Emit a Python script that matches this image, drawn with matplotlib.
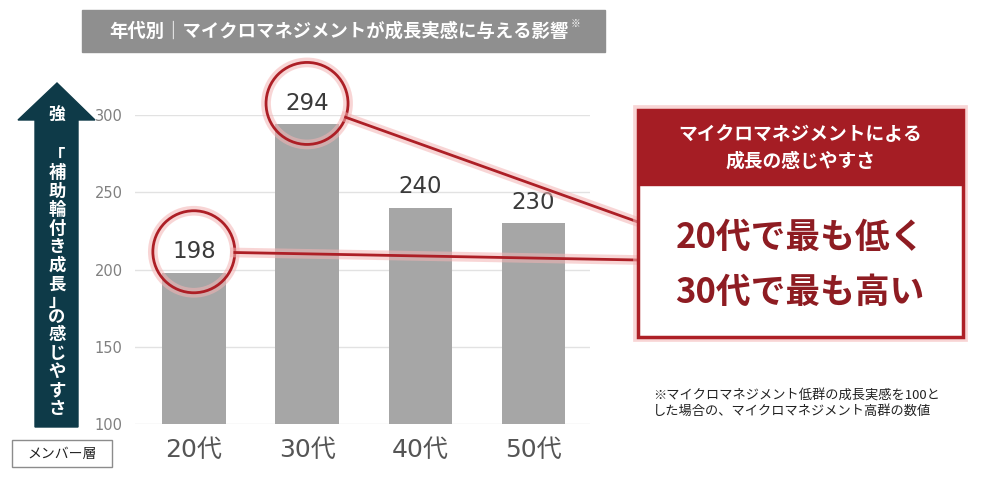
import numpy as np
import matplotlib
matplotlib.use("Agg")
from matplotlib import pyplot as plt
from matplotlib.patches import Rectangle, Polygon, Circle
from matplotlib.lines import Line2D
from matplotlib.transforms import offset_copy, IdentityTransform
import matplotlib.patheffects as pe

plt.rcParams['font.family'] = ['Noto Sans CJK JP', 'DejaVu Sans']

# データ
ages = ['20代', '30代', '40代', '50代']
scores = [198, 294, 240, 230]
yticks = [100, 150, 200, 250, 300]

title = '年代別｜マイクロマネジメントが成長実感に与える影響'
ylabel_text = '「補助輪付き成長」の感じやすさ'
box_head = 'マイクロマネジメントによる\n成長の感じやすさ'
box_body = ['20代で最も低く', '30代で最も高い']
note = '※マイクロマネジメント低群の成長実感を100と\nした場合の、マイクロマネジメント高群の数値'

W, H = 990, 490
RED = '#ad1f26'
GLOW = [pe.Stroke(linewidth=7, foreground='#f4b4b4', alpha=0.55), pe.Normal()]
NUM = ['DejaVu Sans', 'Noto Sans CJK JP']


def fx(px):
    return px / W


def fy(py):
    return 1 - py / H


fig = plt.figure(figsize=(W / 100, H / 100), dpi=100)
ax = fig.add_axes([fx(135), fy(424), fx(590) - fx(135), fy(115) - fy(424)])

x = np.arange(len(ages))
ax.bar(x, np.array(scores) - 100, bottom=100, width=0.56, color='#a6a6a6', zorder=2)
ax.set_xlim(-0.52, 3.5)
ax.set_ylim(100, 300)
ax.set_yticks(yticks)
ax.set_yticklabels([str(t) for t in yticks], color='#808080', fontsize=10.5, family=NUM)
ax.set_xticks(x)
ax.set_xticklabels(ages, color='#555555', fontsize=18, family=NUM)
ax.tick_params(length=0)
ax.tick_params(axis='y', pad=9)
ax.tick_params(axis='x', pad=10)
ax.grid(axis='y', color='#e2e2e2', linewidth=1, zorder=0)
for s in ax.spines.values():
    s.set_visible(False)

# 値ラベル
for i, v in enumerate(scores):
    ax.annotate(str(v), (i, v), xytext=(0, 15), textcoords='offset points',
                ha='center', va='center', fontsize=16.5, color='#3a3a3a', zorder=4,
                family=NUM)

# 丸と引き出し線
off = offset_copy(ax.transData, fig=fig, x=0, y=15, units='points')
r_px = 41
ends = {int(np.argmin(scores)): 260, int(np.argmax(scores)): 222}
for i, end_py in ends.items():
    cx, cy = off.transform((i, scores[i]))
    fig.add_artist(Circle((cx, cy), r_px, transform=IdentityTransform(), fill=False,
                          edgecolor=RED, lw=2, zorder=5, path_effects=GLOW))
    ex, ey = 638, H - end_py
    d = np.array([ex - cx, ey - cy])
    d = d / np.hypot(*d)
    sx, sy = cx + r_px * d[0], cy + r_px * d[1]
    fig.add_artist(Line2D([sx / W, ex / W], [sy / H, ey / H], color=RED, lw=2,
                          transform=fig.transFigure, zorder=6, path_effects=GLOW))

# タイトルバー
fig.add_artist(Rectangle((fx(82), fy(52)), fx(605) - fx(82), fy(10) - fy(52),
                         transform=fig.transFigure, color='#8f8f8f', zorder=1))
fig.text(fx(339), fy(31), title, color='white', fontsize=13.2, fontweight='bold',
         ha='center', va='center')
fig.text(fx(571), fy(24), '※', color='white', fontsize=7, ha='left', va='center')

# 左の矢印
arrow = Polygon([(fx(35), fy(427)), (fx(78), fy(427)), (fx(78), fy(120)), (fx(95), fy(120)),
                 (fx(57), fy(83)), (fx(18), fy(120)), (fx(35), fy(120))],
                closed=True, transform=fig.transFigure, color='#0e3a48', zorder=1)
fig.add_artist(arrow)
fig.text(fx(57), fy(116), '強', color='white', fontsize=12, fontweight='bold',
         ha='center', va='center')
y_cur = 150
for ch in ylabel_text:
    step = 14 if ch in '「」' else 18.5
    fig.text(fx(57), fy(y_cur + step / 2), ch, color='white', fontsize=12.5,
             fontweight='bold', ha='center', va='center')
    y_cur += step

# メンバー層
fig.add_artist(Rectangle((fx(12), fy(467)), fx(112) - fx(12), fy(440) - fy(467),
                         transform=fig.transFigure, facecolor='white', edgecolor='#8c8c8c', lw=1))
fig.text(fx(62), fy(454), 'メンバー層', fontsize=10, color='#222222', ha='center', va='center')

# 右の説明ボックス
fig.add_artist(Rectangle((fx(638), fy(337)), fx(963) - fx(638), fy(110) - fy(337),
                         transform=fig.transFigure, facecolor='white', edgecolor=RED, lw=2.5,
                         zorder=7, path_effects=GLOW))
fig.add_artist(Rectangle((fx(638), fy(185)), fx(963) - fx(638), fy(110) - fy(185),
                         transform=fig.transFigure, color='#a51d24', zorder=8))
fig.text(fx(800), fy(148), box_head, color='white', fontsize=13.5, fontweight='bold',
         ha='center', va='center', linespacing=1.5, zorder=9)
for k, line in enumerate(box_body):
    fig.text(fx(800), fy(237 + 55 * k), line, color='#8e1c22', fontsize=25,
             fontweight='bold', ha='center', va='center', zorder=9)

fig.text(fx(653), fy(404), note, fontsize=9.5, color='#222222', ha='left', va='center',
         linespacing=1.25)

fig.savefig('out.png', dpi=100)
